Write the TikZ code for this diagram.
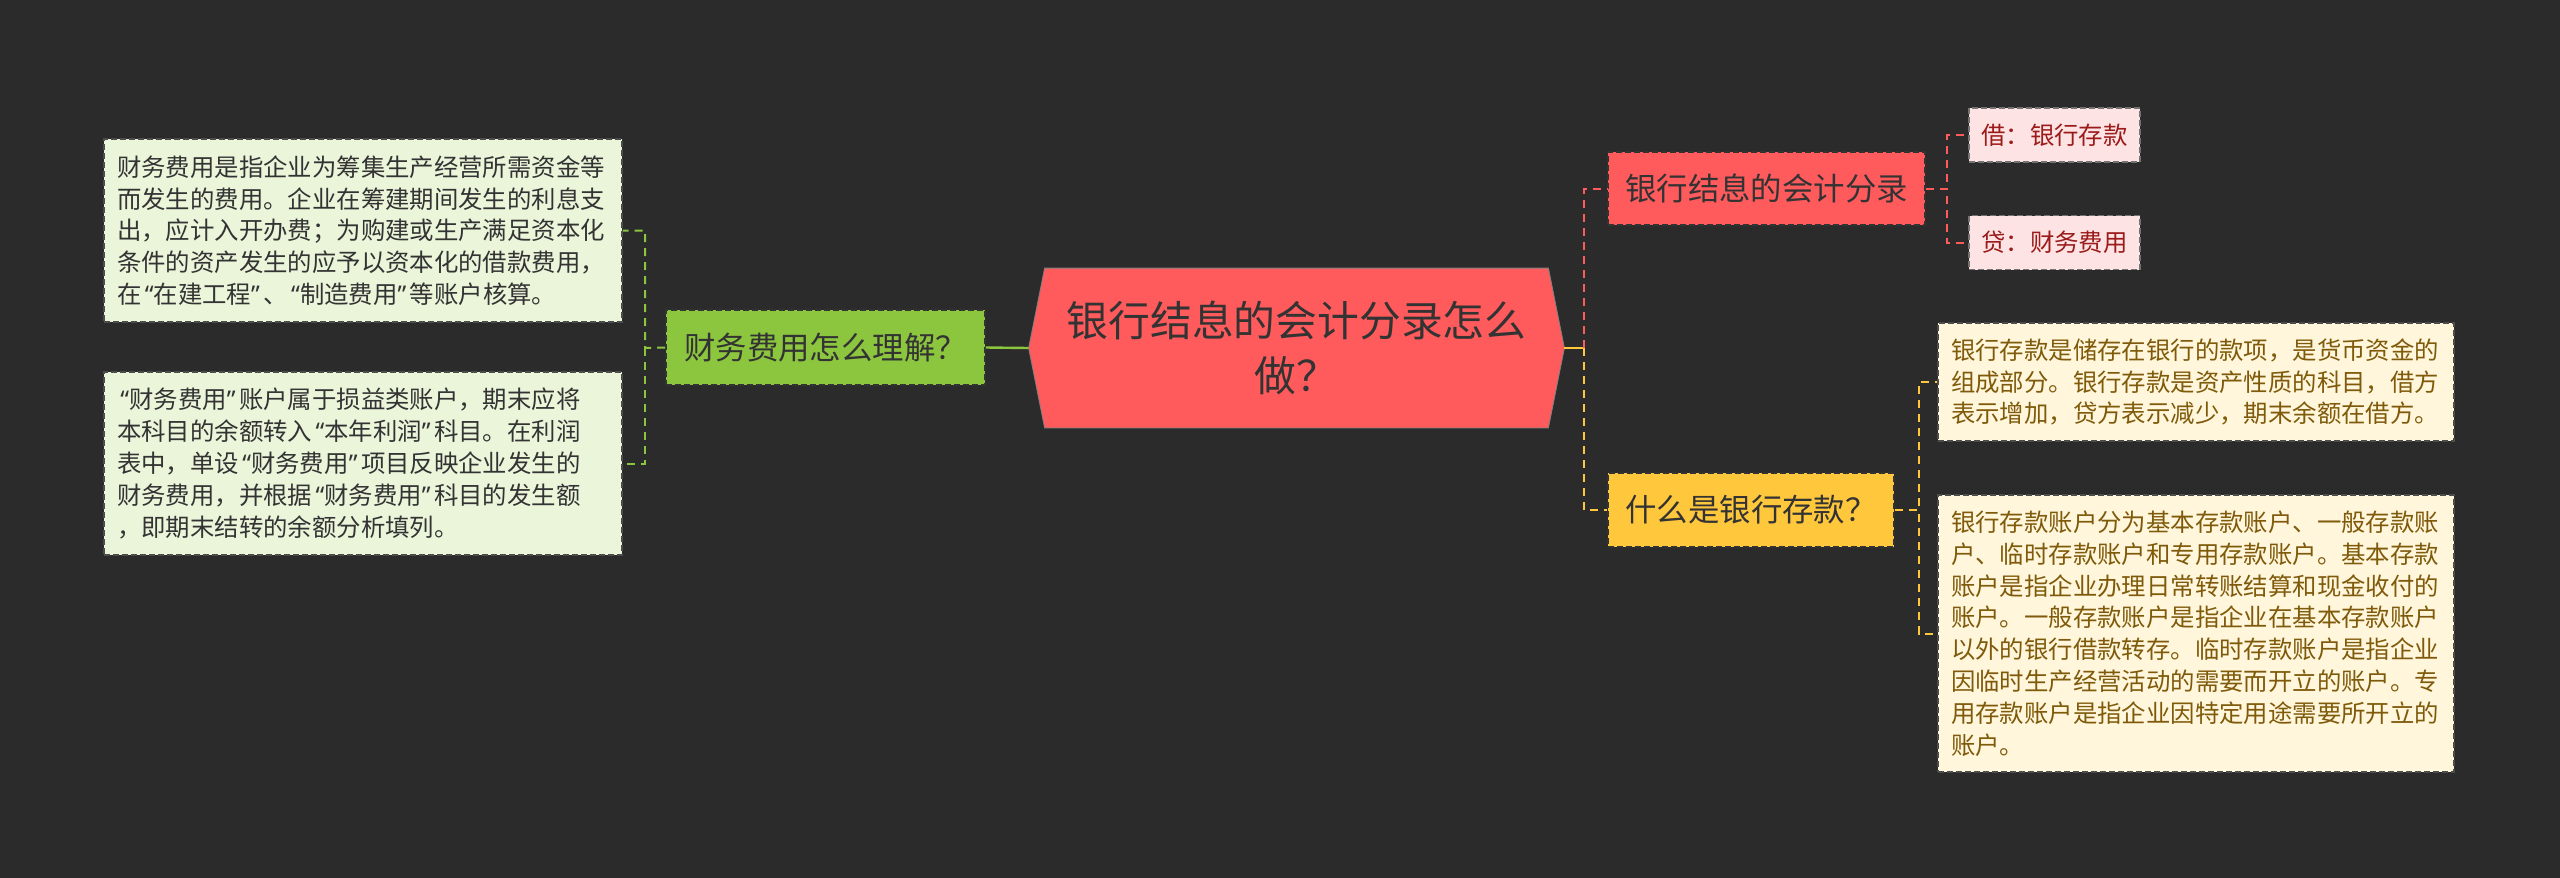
\documentclass[tikz,border=0pt]{standalone}
\usepackage{fontspec}
\setmainfont{Noto Sans CJK SC}
\newfontfamily\quotefont{Noto Sans}
\newcommand{\oquote}{\makebox[0.5em][r]{\quotefont “}}
\newcommand{\cquote}{\makebox[0.5em][l]{\quotefont ”}}
\usetikzlibrary{positioning,calc,backgrounds}

\definecolor{bgdark}{HTML}{2B2B2B}
\definecolor{rootred}{HTML}{FF5A5C}
\definecolor{darktext}{HTML}{333333}
\definecolor{leafgreen}{HTML}{8CC63F}
\definecolor{leafyellow}{HTML}{FFC73C}
\definecolor{greenpale}{HTML}{EAF5DA}
\definecolor{pinkpale}{HTML}{FDE3E3}
\definecolor{pinktext}{HTML}{9B1B1B}
\definecolor{yellowpale}{HTML}{FFF6DB}
\definecolor{browntext}{HTML}{7F5A0A}

\begin{document}
\begin{tikzpicture}[
  x=0.5pt, y=-0.5pt,
  every node/.style={inner sep=0pt},
  root/.style={minimum width=267.5pt, minimum height=79.5pt, align=center, text=darktext, font=\fontsize{20.9pt}{27.8pt}\selectfont},
  branch/.style={rectangle, draw=darktext, line width=0.8pt, dash pattern=on 3pt off 1.5pt, align=center, text=darktext, font=\fontsize{15.7pt}{19pt}\selectfont},
  leaf/.style={rectangle, draw=black!70, line width=0.8pt, dash pattern=on 3pt off 1.5pt, align=left, inner xsep=6.5pt, font=\fontsize{12.2pt}{15.9pt}\selectfont},
  tag/.style={rectangle, draw=black!55, line width=0.8pt, dash pattern=on 3pt off 1.5pt, align=center, fill=pinkpale, text=pinktext, minimum width=85.5pt, minimum height=27pt, font=\fontsize{12.2pt}{15pt}\selectfont},
  link/.style={line width=1pt, dash pattern=on 4pt off 3pt},
  solidlink/.style={line width=1.2pt}
]
  % canvas
  \begin{scope}[on background layer]
    \fill[bgdark] (0,0) rectangle (2560,878);
  \end{scope}
  \useasboundingbox (0,0) rectangle (2560,878);

  % centre
  \node[root] (root) at (1296.5,348) {银行结息的会计分录怎么\\做？};
  \begin{scope}[on background layer]
    \fill[rootred, draw=black!50, line width=0.4pt]
      ($(root.north west)+(16,0)$) -- ($(root.north east)+(-16,0)$) -- (root.east)
      -- ($(root.south east)+(-16,0)$) -- ($(root.south west)+(16,0)$) -- (root.west) -- cycle;
  \end{scope}

  % left branch
  \node[branch, fill=leafgreen, minimum width=159.5pt, minimum height=37.5pt] (fin) at (825.5,347.5) {财务费用怎么理解？};
  \node[leaf, fill=greenpale, text=darktext, text width=246pt, minimum height=91.5pt] (finA) at (363,230.5)
    {财务费用是指企业为筹集生产经营所需资金等\\而发生的费用。企业在筹建期间发生的利息支\\出，应计入开办费；为购建或生产满足资本化\\条件的资产发生的应予以资本化的借款费用，\\在\oquote 在建工程\cquote 、\oquote 制造费用\cquote 等账户核算。};
  \node[leaf, fill=greenpale, text=darktext, text width=246pt, minimum height=91.5pt] (finB) at (363,463.5)
    {\oquote 财务费用\cquote 账户属于损益类账户，期末应将\\本科目的余额转入\oquote 本年利润\cquote 科目。在利润\\表中，单设\oquote 财务费用\cquote 项目反映企业发生的\\财务费用，并根据\oquote 财务费用\cquote 科目的发生额\\，即期末结转的余额分析填列。};

  % right branches
  \node[branch, fill=rootred, minimum width=158.5pt, minimum height=36.5pt] (entry) at (1766.5,188.5) {银行结息的会计分录};
  \node[tag] (debit) at (2054.5,135) {借：银行存款};
  \node[tag] (credit) at (2054.5,242.5) {贷：财务费用};

  \node[branch, fill=leafyellow, minimum width=143pt, minimum height=37pt] (deposit) at (1751,510) {什么是银行存款？};
  \node[leaf, fill=yellowpale, text=browntext, text width=245pt, minimum height=59pt] (depA) at (2196,382)
    {银行存款是储存在银行的款项，是货币资金的\\组成部分。银行存款是资产性质的科目，借方\\表示增加，贷方表示减少，期末余额在借方。};
  \node[leaf, fill=yellowpale, text=browntext, text width=245pt, minimum height=138.5pt] (depB) at (2196,633.5)
    {银行存款账户分为基本存款账户、一般存款账\\户、临时存款账户和专用存款账户。基本存款\\账户是指企业办理日常转账结算和现金收付的\\账户。一般存款账户是指企业在基本存款账户\\以外的银行借款转存。临时存款账户是指企业\\因临时生产经营活动的需要而开立的账户。专\\用存款账户是指企业因特定用途需要所开立的\\账户。};

  % connectors
  \coordinate (lfork) at (645,348);
  \coordinate (rfork) at (1584,348);
  \draw[solidlink, leafgreen] (root.west) -- (fin.east);
  \draw[link, leafgreen] (fin.west) -- (lfork) |- (finA.east);
  \draw[link, leafgreen] (lfork) |- (finB.east);
  \draw[solidlink, leafyellow] (root.east) -- (rfork);
  \draw[link, rootred] (rfork) |- (entry.west);
  \draw[link, leafyellow] (rfork) |- (deposit.west);
  \draw[link, rootred] (entry.east) -- ++(21,0) |- (debit.west);
  \draw[link, rootred] (entry.east) -- ++(21,0) |- (credit.west);
  \draw[link, leafyellow] (deposit.east) -- ++(24,0) |- (depA.west);
  \draw[link, leafyellow] (deposit.east) -- ++(24,0) |- (depB.west);
\end{tikzpicture}
\end{document}
